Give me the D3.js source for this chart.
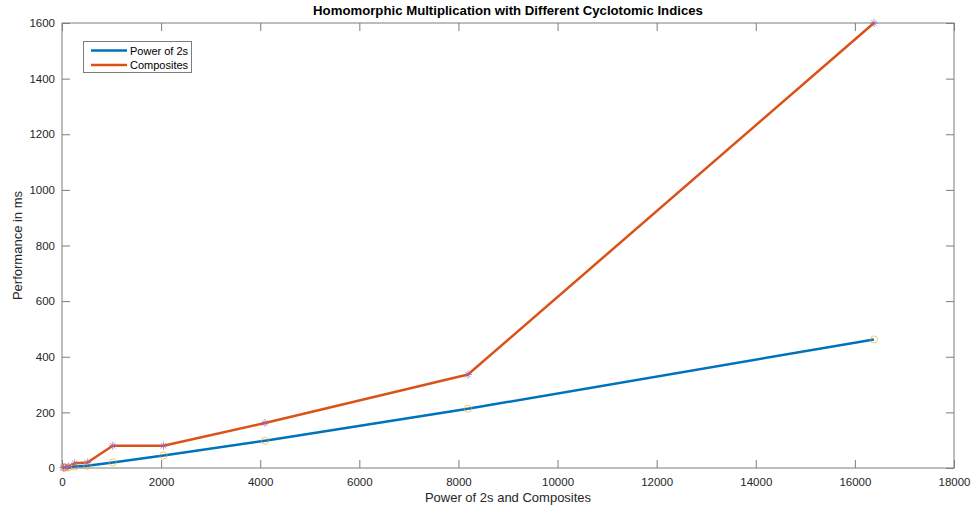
<!DOCTYPE html>
<html><head><meta charset="utf-8">
<script src="https://cdn.jsdelivr.net/npm/d3@7"></script>
<style>body{margin:0;background:#fff}svg{display:block}text{font-family:"Liberation Sans",Arial,sans-serif}</style>
</head><body><svg id="c" width="974" height="509"></svg>
<script>
const sizes = [32, 64, 128, 256, 512, 1024, 2048, 4096, 8192, 16384];
const powerOf2s = [1, 1.5, 2, 5, 8, 20, 45, 98, 213, 462];
const composites = [2, 3, 5, 17, 20, 80, 80, 162, 336, 1600];
const xTicks = [0,2000,4000,6000,8000,10000,12000,14000,16000,18000];
const yTicks = [0,200,400,600,800,1000,1200,1400,1600];
const seriesNames = ["Power of 2s", "Composites"];
const title = "Homomorphic Multiplication with Different Cyclotomic Indices";
const xLabel = "Power of 2s and Composites";
const yLabel = "Performance in ms";

const L=62, R=954, T=23, B=468;
const svg = d3.select("#c");
const x = d3.scaleLinear().domain([0,18000]).range([L,R]);
const y = d3.scaleLinear().domain([0,1600]).range([B,T]);
const axCol = "#7d7d7d", txtCol = "#262626";

svg.append("rect").attr("x",L).attr("y",T).attr("width",R-L).attr("height",B-T)
  .attr("fill","none").attr("stroke",axCol).attr("stroke-width",1);

const tl = 8;
const gx = svg.append("g").attr("transform",`translate(0,${B})`)
  .call(d3.axisBottom(x).tickValues(xTicks).tickFormat(d3.format("d")).tickSizeInner(-tl).tickSizeOuter(0).tickPadding(10));
const gxt = svg.append("g").attr("transform",`translate(0,${T})`)
  .call(d3.axisTop(x).tickValues(xTicks).tickFormat("").tickSizeInner(-tl).tickSizeOuter(0));
const gy = svg.append("g").attr("transform",`translate(${L},0)`)
  .call(d3.axisLeft(y).tickValues(yTicks).tickFormat(d3.format("d")).tickSizeInner(-tl).tickSizeOuter(0).tickPadding(7));
const gyr = svg.append("g").attr("transform",`translate(${R},0)`)
  .call(d3.axisRight(y).tickValues(yTicks).tickFormat("").tickSizeInner(-tl).tickSizeOuter(0));
[gx,gxt,gy,gyr].forEach(g=>{
  g.select(".domain").remove();
  g.selectAll("line").attr("stroke",axCol);
  g.selectAll("text").attr("fill",txtCol).style("font-size","11.5px").style("font-family",'"Liberation Sans",Arial,sans-serif');
});

const line = d3.line().x((d,i)=>x(sizes[i])).y(d=>y(d));
const colors = ["#0072BD","#D95319"];
[powerOf2s, composites].forEach((s,k)=>{
  svg.append("path").datum(s).attr("d",line).attr("fill","none")
    .attr("stroke",colors[k]).attr("stroke-width",2.5).attr("stroke-linejoin","round");
});
svg.append("g").selectAll("circle").data(powerOf2s).join("circle")
  .attr("cx",(d,i)=>x(sizes[i])).attr("cy",d=>y(d)).attr("r",3.6)
  .attr("fill","none").attr("stroke","#EDB120").attr("stroke-width",0.8).attr("opacity",0.8);
const star = "M-4,0H4M0,-4V4M-2.8,-2.8L2.8,2.8M-2.8,2.8L2.8,-2.8";
svg.append("g").selectAll("path").data(composites).join("path")
  .attr("transform",(d,i)=>`translate(${x(sizes[i])},${y(d)})`).attr("d",star)
  .attr("fill","none").attr("stroke","#9E5FAE").attr("stroke-width",0.9).attr("opacity",0.8);

svg.append("text").attr("x",(L+R)/2).attr("y",15).attr("text-anchor","middle")
  .style("font-weight","bold").style("font-size","13.2px").attr("fill","#000").text(title);
svg.append("text").attr("x",(L+R)/2).attr("y",502).attr("text-anchor","middle")
  .style("font-size","13px").attr("fill",txtCol).text(xLabel);
svg.append("text").attr("transform",`translate(22,${(T+B)/2}) rotate(-90)`).attr("text-anchor","middle")
  .style("font-size","13px").attr("fill",txtCol).text(yLabel);

const lg = svg.append("g");
lg.append("rect").attr("x",83.5).attr("y",41.5).attr("width",108).attr("height",31)
  .attr("fill","#fff").attr("stroke",axCol).attr("stroke-width",1);
seriesNames.forEach((n,k)=>{
  const yy = 50.5 + k*14.5;
  lg.append("line").attr("x1",91).attr("x2",127).attr("y1",yy).attr("y2",yy)
    .attr("stroke",colors[k]).attr("stroke-width",2.5);
  lg.append("text").attr("x",130).attr("y",yy+4).style("font-size","11px").attr("fill","#000").text(n);
});
</script></body></html>
